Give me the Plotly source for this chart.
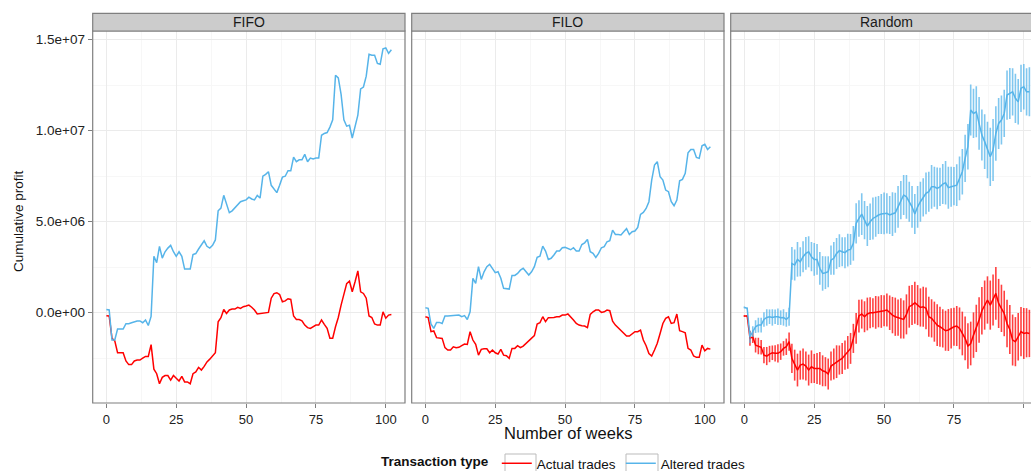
import numpy as np
import plotly.graph_objects as go

# ---------------- data (values in millions) ----------------
weeks = list(range(103))

fifo_actual = [
    -0.16, -0.18, -1.4, -1.55, -2.2, -2.2, -2.2, -2.65, -2.85, -2.85,
    -2.65, -2.6, -2.6, -2.5, -2.4, -2.4, -1.75, -3.1, -3.35, -3.9,
    -3.55, -3.45, -3.45, -3.7, -3.45, -3.6, -3.75, -3.5, -3.8, -3.8,
    -3.9, -3.35, -3.25, -3.0, -3.15, -2.95, -2.7, -2.55, -2.4, -2.2,
    -0.5, -0.27, 0.18, -0.04, 0.15, 0.2, 0.2, 0.3, 0.24, 0.33,
    0.37, 0.42, 0.3, 0.15, -0.07, -0.04, -0.04, 0.02, 0.02, 0.8,
    1.05, 1.1, 1.0, 0.6, 0.65, 0.77, 0.73, -0.18, -0.37, -0.37,
    -0.44, -0.68, -0.82, -0.86, -0.77, -0.68, -0.68, -0.4, -0.64, -0.86,
    -1.4, -1.4, -0.77, -0.26, 0.42, 1.03, 1.6, 1.74, 1.15, 1.7,
    2.3, 1.15, 1.06, 0.8, -0.18, -0.26, -0.62, -0.68, -0.68, 0.05,
    -0.3, -0.13, -0.1]

fifo_altered = [
    0.18, 0.15, -1.5, -1.5, -0.9, -0.9, -0.9, -0.6, -0.6, -0.55,
    -0.5, -0.45, -0.45, -0.55, -0.4, -0.7, -0.2, 3.1, 2.75, 3.65,
    3.0, 3.35, 3.55, 3.7, 3.35, 3.1, 3.35, 3.1, 2.4, 2.4,
    2.4, 3.2, 3.25, 3.5, 3.7, 3.95, 3.65, 3.55, 3.7, 4.0,
    5.6, 5.75, 6.45, 5.9, 5.5, 5.6, 5.75, 5.95, 6.1, 6.15,
    6.2, 6.35, 6.25, 6.2, 6.45, 6.3, 7.5, 7.6, 7.75, 7.0,
    6.8, 6.6, 7.0, 7.45, 7.5, 7.8, 7.8, 8.55, 8.3, 8.4,
    8.4, 8.7, 8.3, 8.5, 8.45, 8.5, 8.5, 9.75, 9.85, 9.9,
    10.2, 10.6, 13.05, 12.9, 12.0, 10.6, 10.25, 10.3, 9.6, 10.3,
    10.86, 12.3, 12.4, 13.0, 14.2, 14.15, 14.15, 13.7, 13.65, 14.5,
    14.55, 14.25, 14.45]

filo_actual = [
    -0.22, -0.27, -1.04, -1.0, -1.37, -1.37, -1.41, -1.92, -2.05, -2.05,
    -1.87, -1.92, -1.9, -1.81, -1.72, -1.74, -1.04, -1.5, -1.74, -2.33,
    -2.01, -1.98, -1.98, -2.2, -2.05, -2.2, -2.27, -2.01, -2.33, -2.36,
    -2.51, -1.96, -1.96, -1.81, -1.92, -1.83, -1.68, -1.56, -1.43, -1.26,
    -0.62, -0.55, -0.22, -0.49, -0.27, -0.27, -0.26, -0.22, -0.22, -0.13,
    -0.13, -0.07, -0.22, -0.4, -0.59, -0.68, -0.71, -0.73, -0.82, -0.09,
    0.05, 0.15, 0.15, 0.02, 0.05, 0.15, 0.11, -0.46, -0.68, -0.82,
    -0.95, -1.14, -1.28, -1.28, -1.14, -1.04, -1.04, -0.95, -1.5, -1.81,
    -2.24, -2.38, -2.05, -1.68, -1.14, -0.59, -0.31, -0.22, -0.59, -0.55,
    -0.07, -0.99, -1.04, -1.1, -1.96, -2.05, -2.38, -2.45, -2.45, -1.78,
    -2.09, -1.96, -2.0]

filo_altered = [
    0.27, 0.24, -0.62, -0.86, -0.53, -0.53, -0.59, -0.18, -0.18, -0.16,
    -0.16, -0.15, -0.13, -0.22, -0.16, -0.37, 0.05, 1.89, 1.61, 2.53,
    1.83, 2.25, 2.53, 2.66, 2.44, 2.2, 2.25, 1.89, 1.34, 1.3,
    1.3, 2.05, 2.05, 2.16, 2.34, 2.44, 2.23, 2.07, 2.25, 2.53,
    3.04, 3.11, 3.66, 3.39, 2.93, 2.99, 3.17, 3.39, 3.39, 3.57,
    3.59, 3.53, 3.46, 3.57, 3.39, 3.39, 3.75, 3.84, 4.03, 3.35,
    3.26, 3.04, 3.26, 3.57, 3.63, 3.9, 3.96, 4.54, 4.3, 4.3,
    4.27, 4.45, 4.62, 4.3, 4.45, 4.49, 4.69, 5.4, 5.51, 5.73,
    6.1, 7.29, 8.11, 8.3, 7.47, 7.29, 6.74, 6.65, 6.1, 5.88,
    6.19, 7.25, 7.33, 7.66, 8.79, 8.97, 8.97, 8.53, 8.48, 9.17,
    9.25, 8.97, 9.12]

random_actual = [
    -0.18, -0.18, -1.41, -1.32, -1.78, -1.83, -1.9, -2.33, -2.38, -2.27,
    -2.2, -2.23, -2.23, -2.14, -1.96, -1.87, -1.59, -2.51, -2.88, -3.15,
    -2.88, -2.82, -2.93, -3.15, -2.97, -3.06, -3.06, -3.06, -3.19, -3.24,
    -3.37, -2.93, -2.82, -2.69, -2.6, -2.51, -2.33, -2.18, -1.96, -1.41,
    -0.86, -0.18, -0.07, -0.22, -0.07, 0.0, 0.0, 0.02, 0.05, 0.07,
    0.11, 0.15, 0.0, -0.13, -0.22, -0.27, -0.31, -0.37, -0.09, 0.33,
    0.42, 0.55, 0.42, 0.29, 0.33, 0.24, -0.22, -0.31, -0.49, -0.68,
    -0.77, -0.86, -0.99, -0.95, -0.86, -0.77, -0.73, -0.86, -1.14, -1.41,
    -1.83, -1.69, -1.23, -0.86, -0.4, 0.11, 0.42, 0.7, 0.42, 0.7,
    1.06, 0.51, 0.24, -0.04, -0.59, -0.92, -1.5, -1.59, -1.32, -1.04,
    -1.14, -1.1, -1.14]

random_actual_err = [
    0.05, 0.05,
    0.4, 0.35, 0.4, 0.45, 0.4, 0.45, 0.5, 0.45, 0.4, 0.45, 0.5, 0.45, 0.4, 0.45, 0.5,
    0.8, 0.85, 0.9, 0.8, 0.85, 0.8, 0.85, 0.9, 0.8, 0.85, 0.9, 0.85, 0.8, 0.85, 0.8,
    0.85, 0.9, 0.8, 0.85, 0.8, 0.9, 0.85, 0.8,
    0.85, 0.9, 0.8, 0.85, 0.9, 0.85, 0.8, 0.9, 0.85, 0.9, 0.85, 0.9, 0.95, 1.0, 1.05,
    1.0, 1.1, 1.05, 1.1, 1.15, 1.1,
    1.15, 1.1, 1.05, 1.1, 1.15, 1.1, 1.05, 1.1, 1.15, 1.1, 1.05, 1.1, 1.15, 1.1, 1.05,
    1.1, 1.15, 1.2, 1.2, 1.25,
    1.2, 1.25, 1.3, 1.25, 1.3, 1.35, 1.3, 1.35, 1.4, 1.45, 1.35, 1.3, 1.25, 1.3, 1.35,
    1.4, 1.35, 1.3, 1.35, 1.4, 1.35, 1.3]

random_altered = [
    0.29, 0.24, -1.32, -1.04, -0.77, -0.68, -0.68, -0.37, -0.26, -0.22,
    -0.26, -0.22, -0.22, -0.27, -0.26, -0.37, -0.22, 2.71, 2.62, 2.93,
    2.8, 3.08, 3.26, 3.35, 3.08, 2.93, 2.93, 2.44, 2.16, 2.2,
    2.25, 2.89, 2.99, 3.26, 3.41, 3.35, 3.3, 3.44, 3.48, 3.81,
    4.91, 5.18, 5.42, 5.09, 4.76, 5.0, 5.18, 5.27, 5.37, 5.42,
    5.46, 5.46, 5.37, 5.42, 5.49, 5.82, 6.19, 6.47, 6.37, 6.1,
    5.82, 5.42, 5.82, 6.1, 6.34, 6.56, 6.65, 6.92, 6.92, 6.83,
    6.92, 7.07, 7.14, 6.87, 6.92, 6.96, 7.01, 7.38, 7.75, 8.48,
    9.12, 11.14, 10.95, 11.04, 10.4, 9.76, 9.4, 8.94, 8.57, 8.94,
    9.85, 10.4, 10.59, 10.95, 11.96, 12.05, 12.14, 11.78, 11.59, 12.33,
    12.42, 12.14, 12.14]

random_altered_err = [
    0.05, 0.05,
    0.35, 0.3, 0.35, 0.4, 0.4, 0.4, 0.45, 0.4, 0.45, 0.4, 0.45, 0.4, 0.45, 0.4, 0.5,
    0.9, 0.85, 0.95, 0.8, 0.85, 0.9, 0.85, 0.8, 0.9, 0.85, 0.9, 0.95, 0.9, 0.85, 0.8,
    0.9, 0.85, 0.9, 0.8, 0.85, 0.9, 0.85, 0.95,
    1.1, 1.0, 1.15, 1.05, 1.1, 1.0, 1.15, 1.1, 1.05, 1.1, 1.15, 1.1, 1.05, 1.2, 1.1,
    1.15, 1.05, 1.1, 1.2, 1.1, 1.15,
    1.1, 1.15, 1.1, 1.05, 1.15, 1.1, 1.2, 1.1, 1.15, 1.05, 1.1, 1.2, 1.15, 1.1, 1.05,
    1.15, 1.2, 1.25, 1.3, 1.25,
    1.4, 1.35, 1.4, 1.45, 1.4, 1.5, 1.55, 1.6, 1.7, 1.5, 1.4, 1.35, 1.3, 1.35, 1.4,
    1.3, 1.35, 1.25, 1.3, 1.25, 1.3, 1.35]

panel_names = ["FIFO", "FILO", "Random"]
series_names = ["Actual trades", "Altered trades"]
x_tickvals = [0, 25, 50, 75, 100]
x_ticktext = ["0", "25", "50", "75", "100"]
y_tickvals = [0, 5e6, 1e7, 1.5e7]
y_ticktext = ["0.0e+00", "5.0e+06", "1.0e+07", "1.5e+07"]

# ---------------- styling ----------------
W, H = 1031, 471
RED = "#FF0000"
BLUE = "#56B4E9"
FONT = "Liberation Sans, Arial, Helvetica, sans-serif"
BORDER = "#7F7F7F"


def px(x):
    """screen x pixel -> paper fraction"""
    return x / W


def py(y):
    """screen y pixel -> paper fraction"""
    return (H - y) / H


panel_px = [(92.7, 405.0), (411.7, 724.0), (730.7, 1043.0)]
top_px, bot_px = 31.0, 403.0
strip_top = 13.3
PX_PER_WEEK = 2.794

M = 1e6
fig = go.Figure()

data_sets = [
    (fifo_actual, fifo_altered, None, None),
    (filo_actual, filo_altered, None, None),
    (random_actual, random_altered, random_actual_err, random_altered_err),
]

for i, (act, alt, e_act, e_alt) in enumerate(data_sets):
    xa = "x" if i == 0 else f"x{i+1}"
    ya = "y" if i == 0 else f"y{i+1}"
    for vals, err, col, ecol, nm in [
        (act, e_act, RED, "rgba(255,0,0,0.75)", series_names[0]),
        (alt, e_alt, BLUE, "rgba(86,180,233,0.75)", series_names[1]),
    ]:
        tr = dict(
            x=weeks, y=np.array(vals) * M, mode="lines",
            line=dict(color=col, width=1.5), name=nm,
            legendgroup=nm, showlegend=(i == 0), xaxis=xa, yaxis=ya,
        )
        if err is not None:
            tr["error_y"] = dict(type="data", array=np.array(err) * M,
                                 symmetric=True, width=0, thickness=1.6,
                                 color=ecol)
        fig.add_trace(go.Scatter(**tr))

layout = dict(
    width=W, height=H,
    margin=dict(l=0, r=0, t=0, b=0, autoexpand=False),
    paper_bgcolor="white", plot_bgcolor="white",
    font=dict(family=FONT, size=12, color="#222222"),
    showlegend=True,
    legend=dict(
        orientation="h", x=px(379), xanchor="left", y=py(448), yanchor="top",
        title=dict(text="<b>Transaction type</b>", side="left",
                   font=dict(size=13.5, color="#111111")),
        font=dict(size=13.5, color="#111111"),
        bgcolor="rgba(0,0,0,0)", itemwidth=30, tracegroupgap=0,
    ),
)

grid_major = "#EBEBEB"
grid_minor = "#F7F7F7"

for i, (x0, x1) in enumerate(panel_px):
    n = "" if i == 0 else str(i + 1)
    d0 = px(x0)
    d1 = min(px(x1), 1.0)
    vis_w = (d1 - d0) * W
    xr = [-4.9, -4.9 + vis_w / PX_PER_WEEK]
    layout["xaxis" + n] = dict(
        domain=[d0, d1], anchor="y" + n, range=xr,
        tickvals=x_tickvals, ticktext=x_ticktext,
        ticks="outside", ticklen=4, tickcolor=BORDER, tickwidth=1,
        tickfont=dict(size=13, color="#222222"),
        showgrid=True, gridcolor=grid_major, gridwidth=1,
        minor=dict(tickvals=[12.5, 37.5, 62.5, 87.5], showgrid=True,
                   gridcolor=grid_minor, ticks=""),
        zeroline=False, showline=False, automargin=False,
    )
    layout["yaxis" + n] = dict(
        domain=[py(bot_px), py(top_px)], anchor="x" + n,
        range=[-4.96e6, 15.48e6],
        tickvals=y_tickvals, ticktext=y_ticktext if i == 0 else None,
        showticklabels=(i == 0),
        ticks="outside" if i == 0 else "", ticklen=4, tickcolor=BORDER,
        tickfont=dict(size=13.5, color="#222222"),
        showgrid=True, gridcolor=grid_major, gridwidth=1,
        minor=dict(tickvals=[-2.5e6, 2.5e6, 7.5e6, 1.25e7], showgrid=True,
                   gridcolor=grid_minor, ticks=""),
        zeroline=False, showline=False, automargin=False,
    )

fig.update_layout(**layout)

shapes = []
annotations = []
strip_centers = [248.85, 567.85, 886.7]
for i, (x0, x1) in enumerate(panel_px):
    shapes.append(dict(type="rect", xref="paper", yref="paper",
                       x0=px(x0), x1=px(x1), y0=py(bot_px), y1=py(top_px),
                       line=dict(color=BORDER, width=1.2),
                       fillcolor="rgba(0,0,0,0)", layer="above"))
    shapes.append(dict(type="rect", xref="paper", yref="paper",
                       x0=px(x0), x1=px(x1), y0=py(top_px), y1=py(strip_top),
                       line=dict(color=BORDER, width=1.2),
                       fillcolor="#CCCCCC", layer="above"))
    annotations.append(dict(text=panel_names[i], xref="paper", yref="paper",
                            x=px(strip_centers[i]), y=py(22.3),
                            xanchor="center", yanchor="middle",
                            showarrow=False,
                            font=dict(size=14, color="#1a1a1a")))

# legend key boxes
for bx0, bx1 in [(505, 536), (626, 658)]:
    shapes.append(dict(type="rect", xref="paper", yref="paper",
                       x0=px(bx0), x1=px(bx1), y0=py(476), y1=py(454),
                       line=dict(color="#BBBBBB", width=1),
                       fillcolor="rgba(0,0,0,0)", layer="below"))

annotations.append(dict(text="Number of weeks", xref="paper", yref="paper",
                        x=px(568), y=py(433), xanchor="center",
                        yanchor="middle", showarrow=False,
                        font=dict(size=16.5, color="#111111")))
annotations.append(dict(text="Cumulative profit", xref="paper", yref="paper",
                        x=px(18), y=py(221), xanchor="center",
                        yanchor="middle", showarrow=False, textangle=-90,
                        font=dict(size=13.5, color="#111111")))

fig.update_layout(shapes=shapes, annotations=annotations)

fig.write_html(
    "out.html",
    config={"displayModeBar": False},
    post_script="document.body.style.margin='0px';"
                "document.body.style.overflow='hidden';"
                "document.documentElement.style.overflow='hidden';",
)
